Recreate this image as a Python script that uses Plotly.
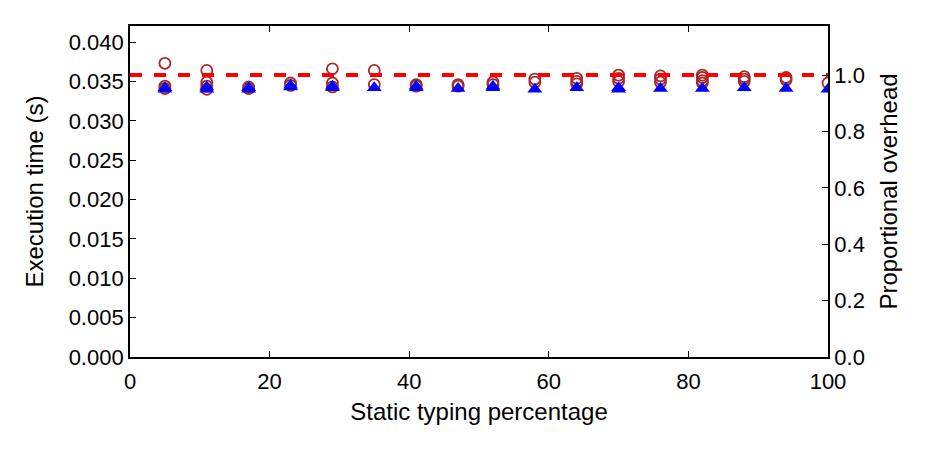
import plotly.graph_objects as go

# Static typing percentage for each configuration
x_vals = [5, 11, 17, 23, 29, 35, 41, 47, 52, 58, 64, 70, 76, 82, 88, 94, 100]

# Execution times (s) per run, brown open circles
circle_runs = [
    [0.0373, 0.0344, 0.0341],
    [0.0364, 0.0349, 0.0344, 0.0340],
    [0.0343, 0.0341],
    [0.0348, 0.0345],
    [0.0366, 0.0348, 0.0343],
    [0.0364, 0.0346],
    [0.0346, 0.0344],
    [0.0346, 0.0344],
    [0.0349, 0.0346],
    [0.0353, 0.0349],
    [0.0354, 0.0350, 0.0347],
    [0.0358, 0.0354, 0.0350],
    [0.0357, 0.0353, 0.0349],
    [0.0358, 0.0355, 0.0351, 0.0348],
    [0.0356, 0.0353, 0.0350],
    [0.0355, 0.0352],
    [0.0348],
]

# Execution times (s) per run, blue filled triangles
triangle_runs = [
    [0.0342, 0.0340],
    [0.0343, 0.0340],
    [0.0342, 0.0340],
    [0.0345, 0.0343],
    [0.0344, 0.0342],
    [0.0342],
    [0.0344, 0.0342],
    [0.0341],
    [0.0344, 0.0342],
    [0.0340],
    [0.0342],
    [0.0342, 0.0340],
    [0.0341],
    [0.0341],
    [0.0342],
    [0.0341],
    [0.0340],
]

overhead_x = [0, 100]
overhead_y = [1.0, 1.0]

cx, cy = [], []
for xv, runs in zip(x_vals, circle_runs):
    for r in runs:
        cx.append(xv); cy.append(r)
tx, ty = [], []
for xv, runs in zip(x_vals, triangle_runs):
    for r in runs:
        tx.append(xv); ty.append(r)

FONT = "Liberation Sans, Arial, sans-serif"
TICK_SIZE = 22
TITLE_SIZE = 24

fig = go.Figure()
fig.add_trace(go.Scatter(
    x=cx, y=cy, mode="markers",
    marker=dict(symbol="circle-open", size=11, color="#a52a2a", line=dict(width=1.8, color="#a52a2a")),
    showlegend=False))
fig.add_trace(go.Scatter(
    x=tx, y=ty, mode="markers",
    marker=dict(symbol="triangle-up", size=13, color="#0000ff", line=dict(width=0)),
    showlegend=False))
fig.add_trace(go.Scatter(
    x=overhead_x, y=overhead_y, mode="lines", yaxis="y2",
    line=dict(color="#ff0000", width=4, dash="dash"),
    showlegend=False))

axis_common = dict(
    showline=True, linecolor="black", linewidth=1.8,
    ticks="inside", ticklen=6, tickwidth=1, tickcolor="black",
    showgrid=False, zeroline=False,
    tickfont=dict(family=FONT, size=TICK_SIZE, color="black"),
)

fig.update_layout(
    width=930, height=450,
    margin=dict(l=130, r=102, t=26, b=93),
    paper_bgcolor="white", plot_bgcolor="white",
    font=dict(family=FONT, size=TICK_SIZE, color="black"),
    xaxis=dict(
        range=[0, 100], tickvals=[0, 20, 40, 60, 80, 100], mirror="ticks",
        ticklabelstandoff=4,
        title=dict(text="Static typing percentage", font=dict(family=FONT, size=TITLE_SIZE), standoff=10),
        **axis_common),
    yaxis=dict(
        range=[0, 0.04204], tickvals=[0, 0.005, 0.01, 0.015, 0.02, 0.025, 0.03, 0.035, 0.04],
        tickformat=".3f",
        title=dict(text="Execution time (s)", font=dict(family=FONT, size=TITLE_SIZE), standoff=18),
        **axis_common),
    yaxis2=dict(
        range=[0, 1.174], tickvals=[0, 0.2, 0.4, 0.6, 0.8, 1.0], tickformat=".1f",
        overlaying="y", side="right",
        title=dict(text="Proportional overhead", font=dict(family=FONT, size=TITLE_SIZE), standoff=16),
        **axis_common),
)

fig.write_html("out.html")
